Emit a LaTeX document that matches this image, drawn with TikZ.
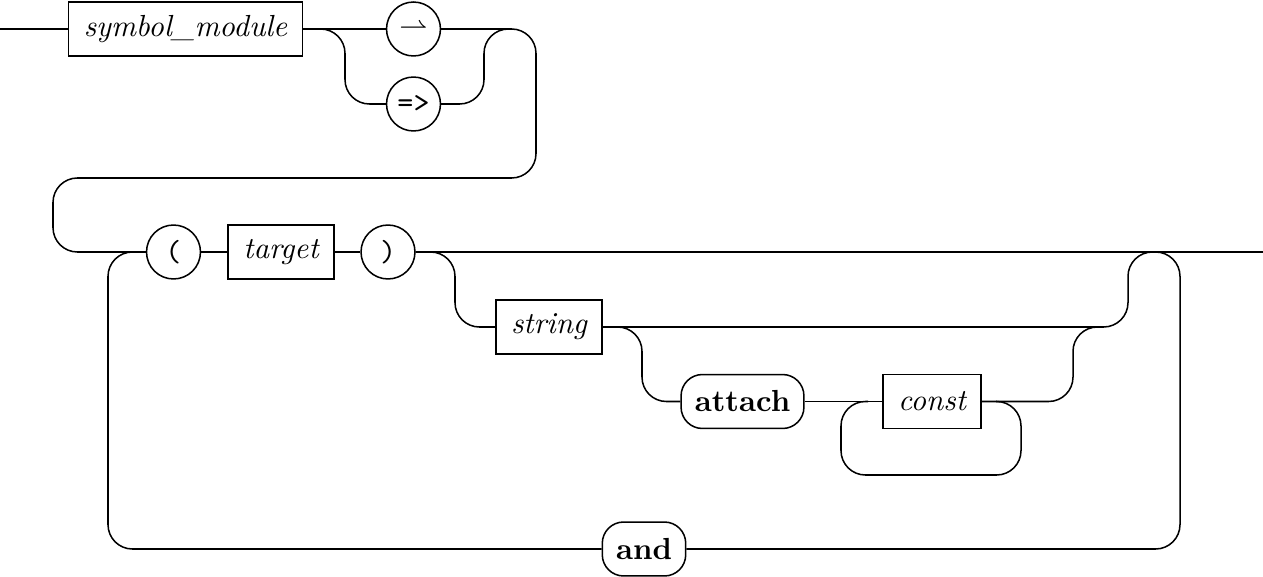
\documentclass[tikz,border=0pt]{standalone}
\usepackage{amssymb}
\begin{document}
\begin{tikzpicture}[x=0.328pt, y=-0.328pt, line width=0.5pt,
    nonterminal/.style={rectangle, draw, minimum height=17.7pt, inner xsep=5pt, font=\itshape},
    keyword/.style={rectangle, draw, rounded corners=7pt, minimum height=17.7pt, inner xsep=4.5pt, font=\bfseries},
    token/.style={circle, draw, minimum size=17.7pt, inner sep=0pt, font=\ttfamily},
    rail/.style={rounded corners=8pt}]

    \useasboundingbox (0,0) rectangle (1263,577);

    \coordinate (start) at (0,29);
    \coordinate (finish) at (1263,252);
    \coordinate (join1) at (512,29);
    \coordinate (split2) at (134,252);
    \coordinate (join2) at (1154,252);
    \coordinate (join3) at (1100,327);
    \coordinate (split4) at (868,401.5);
    \coordinate (join4) at (996,401.5);

    \node[nonterminal] (module) at (185.5,29) {symbol\_module};
    \node[token] (harpoon) at (413.5,29) {\small$\rightharpoonup$};
    \node[token] (arrow) at (413.5,104) {=>};
    \node[token] (lparen) at (173.5,252) {(};
    \node[nonterminal] (target) at (281,252) {target};
    \node[token] (rparen) at (388,252) {)};
    \node[nonterminal] (string) at (549,327) {string};
    \node[keyword] (attach) at (742.5,401.5) {attach};
    \node[nonterminal] (const) at (932,401.5) {const};
    \node[keyword] (and) at (644,549) {and};

    % first row
    \draw (start) -- (module);
    \draw (module) -- (harpoon);
    \draw[rail] (module.east) -- (345,29) -- (345,104) -- (arrow);
    \draw[rail] (arrow) -- (484,104) -- (484,29) -- (join1);
    \draw[rail] (harpoon) -- (536,29) -- (536,178) -- (53,178) -- (53,252) -- (lparen);

    % second row
    \draw (lparen) -- (target);
    \draw (target) -- (rparen);
    \draw (rparen) -- (finish);
    \draw[rail] (split2) -- (108,252) -- (108,549) -- (and);
    \draw[rail] (and) -- (1180,549) -- (1180,252) -- (join2);
    \draw[rail] (rparen.east) -- (455,252) -- (455,327) -- (string);
    \draw[rail] (string) -- (1128,327) -- (1128,252) -- (join2);
    \draw[rail] (string.east) -- (642,327) -- (642,401.5) -- (attach);
    \draw (attach) -- (const);
    \draw[rail] (const) -- (1073,401.5) -- (1073,327) -- (join3);
    \draw[rail] (split4) -- (841,401.5) -- (841,475) -- (1021,475) -- (1021,401.5) -- (join4);
\end{tikzpicture}
\end{document}
